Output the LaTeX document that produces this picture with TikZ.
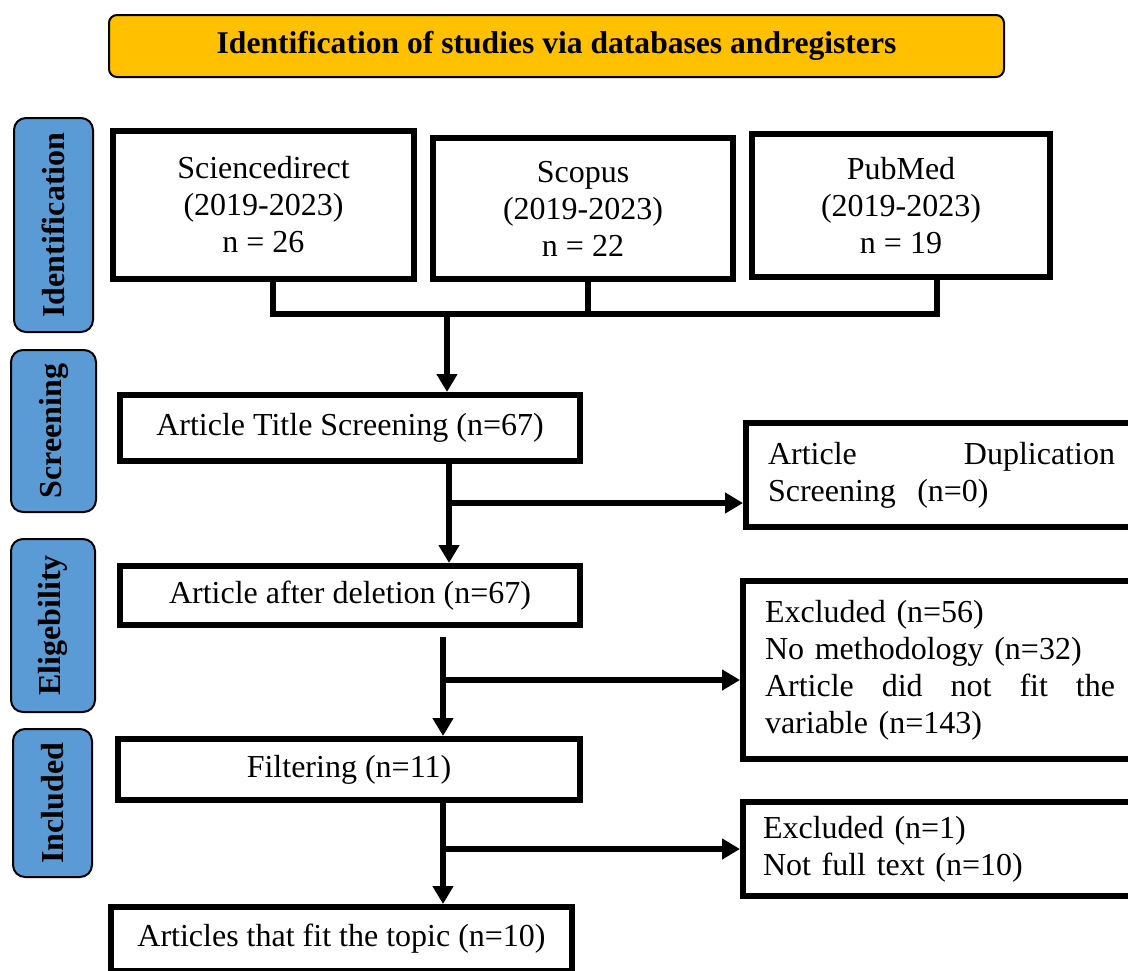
\documentclass[tikz,border=0pt]{standalone}
\usepackage{fontspec}
\setmainfont{Liberation Serif}
\usetikzlibrary{arrows.meta}
\definecolor{bannerfill}{HTML}{FFC000}
\definecolor{sidefill}{HTML}{5B9BD5}
\begin{document}
\begin{tikzpicture}[x=1pt,y=-1pt,
  txt/.style={font=\fontsize{32}{37}\selectfont},
  box/.style={draw, line width=6pt, fill=white, inner sep=0pt, txt, align=center},
  banner/.style={draw, line width=2pt, fill=bannerfill, rounded corners=8pt, inner sep=0pt, font=\bfseries\fontsize{31.6}{36}\selectfont},
  sidebox/.style={draw, line width=2pt, fill=sidefill, rounded corners=12pt, rotate=90, inner sep=0pt, font=\bfseries\fontsize{32}{37}\selectfont},
  rbox/.style={draw, line width=6pt, fill=white, inner ysep=0pt, txt, align=left, anchor=west},
  conn/.style={line width=6pt},
  arr/.style={line width=6pt, -{Triangle[length=18pt,width=20pt]}}
]
\useasboundingbox (0,0) rectangle (1128,970);
\clip (0,0) rectangle (1128,970);
\fill[white] (0,0) rectangle (1128,970);

% banner
\node[banner, minimum width=895pt, minimum height=62pt] (ban) at (556.5,46) {Identification of studies via databases andregisters};

% side labels
\node[sidebox, minimum width=214pt, minimum height=79pt] (sid) at (53.5,225) {Identification};
\node[sidebox, minimum width=162pt, minimum height=85pt] (sscr) at (53.5,431) {Screening};
\node[sidebox, minimum width=173pt, minimum height=84pt] (seli) at (53,625.5) {Eligebility};
\node[sidebox, minimum width=148pt, minimum height=79pt] (sinc) at (52.5,803) {Included};

% databases
\node[box, minimum width=301pt, minimum height=148pt] (sd) at (263.5,204.5) {Sciencedirect\\(2019-2023)\\n = 26};
\node[box, minimum width=300pt, minimum height=141pt] (sc) at (583,208.5) {Scopus\\(2019-2023)\\n = 22};
\node[box, minimum width=298pt, minimum height=143pt] (pm) at (901,205.5) {PubMed\\(2019-2023)\\n = 19};

% main column
\node[box, minimum width=460pt, minimum height=66pt] (ats) at (350,428) {Article Title Screening (n=67)};
\node[box, minimum width=460pt, minimum height=59pt] (aad) at (350,595.5) {Article after deletion (n=67)};
\node[box, minimum width=462pt, minimum height=61pt] (fil) at (349,769.5) {Filtering (n=11)};
\node[box, minimum width=461pt, minimum height=64pt] (aft) at (341.5,939) {Articles that fit the topic (n=10)};

% right column
\node[rbox, inner xsep=22pt, text width=347pt, minimum height=104pt] (dup) at (743,475)
  {\makebox[347pt][s]{Article\hfil Duplication}\\Screening\ \ (n=0)};
\node[rbox, inner xsep=22pt, text width=350pt, minimum height=178pt] (exc1) at (740,670)
  {Excluded (n=56)\\No methodology (n=32)\\\makebox[350pt][s]{Article\hfil did\hfil not\hfil fit\hfil the}\\variable (n=143)};
\node[rbox, inner xsep=20pt, text width=350pt, minimum height=94pt] (exc2) at (740,849)
  {Excluded (n=1)\\Not full text (n=10)};

% connectors: databases join
\coordinate (j1) at (273,314);
\coordinate (j2) at (588,314);
\coordinate (j3) at (937,314);
\coordinate (jm) at (447,314);
\draw[conn] (sd.south -| j1) -- (j1) -- (j3) -- (pm.south -| j3);
\draw[conn] (sc.south -| j2) -- (j2);
\draw[arr] (jm) -- (ats.north -| jm);

% screening
\coordinate (b1) at (449,503);
\draw[arr] (ats.south -| b1) -- (aad.north -| b1);
\draw[arr] (b1) -- (b1 -| dup.west);

% eligibility
\coordinate (s2) at (443,637);
\coordinate (b2) at (443,680);
\draw[arr] (s2) -- (fil.north -| s2);
\draw[arr] (b2) -- (b2 -| exc1.west);

% included
\coordinate (b3) at (443,849);
\draw[arr] (fil.south -| b3) -- (aft.north -| b3);
\draw[arr] (b3) -- (b3 -| exc2.west);
\end{tikzpicture}
\end{document}
